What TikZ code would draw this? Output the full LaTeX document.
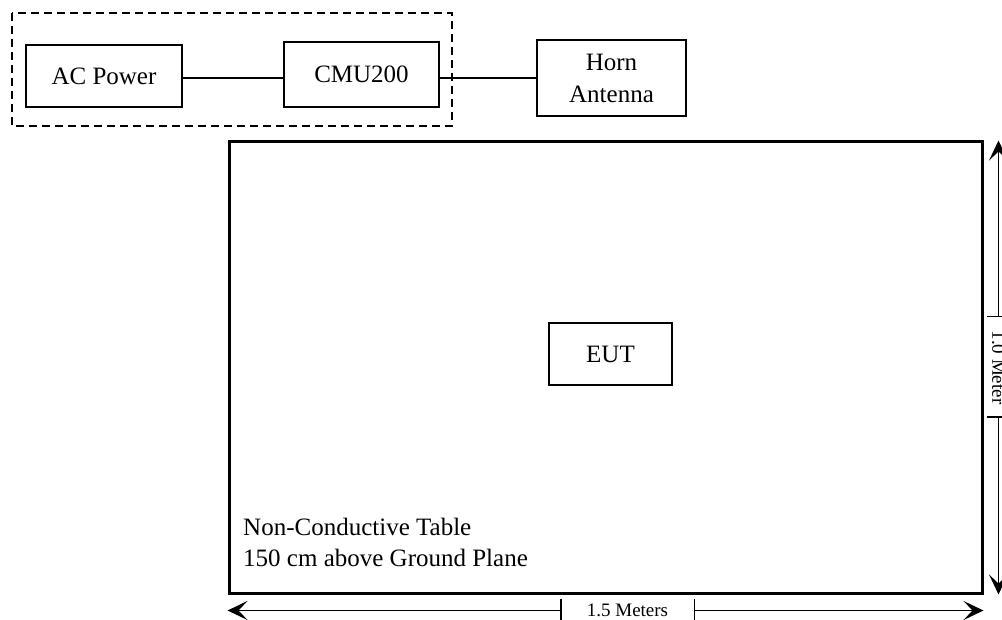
\documentclass[tikz,border=0pt]{standalone}
\usepackage{fontspec}
\setmainfont{Liberation Serif}
\usetikzlibrary{arrows.meta,calc}
\begin{document}
\begin{tikzpicture}[x=1pt,y=-1pt,
  box/.style={draw, line width=1.8pt, inner sep=0pt, align=center,
    font=\fontsize{25}{32}\selectfont},
  wire/.style={line width=1.5pt},
  dim/.style={line width=1.5pt},
  dimlabel/.style={inner sep=0pt, font=\fontsize{19}{22}\selectfont}]
\tikzset{headtip/.tip={Stealth[length=20pt,width=19pt,inset=9pt]},
  bartip/.tip={Bar[width=23pt]}}
\useasboundingbox (0,0) rectangle (1002,620);
% top chain
\node[box, minimum width=156pt, minimum height=62pt] (ac) at (104,76) {AC Power};
\node[box, minimum width=155pt, minimum height=65pt] (cmu) at (361.5,74.5) {CMU200};
\node[box, minimum width=149pt, minimum height=76pt] (horn) at (611.5,78) {Horn\\Antenna};
\draw[wire] (ac.east |- horn.west) -- (cmu.west |- horn.west);
\draw[wire] (cmu.east |- horn.west) -- (horn.west);
\coordinate (gtl) at (12,13);
\coordinate (gbr) at (452,126);
\draw[line width=1.6pt, dash pattern=on 8pt off 5pt] (gtl) rectangle (gbr);
% table
\node[draw, line width=3pt, minimum width=753pt, minimum height=451pt, inner sep=0pt] (table) at (605.5,367.5) {};
\node[box, minimum width=123pt, minimum height=62pt] (eut) at (610.5,354) {EUT};
\node[anchor=base west, align=left, inner sep=0pt, font=\fontsize{25}{31}\selectfont] (tlabel) at (243,566)
  {Non-Conductive Table\\150 cm above Ground Plane};
% horizontal dimension
\coordinate (hl) at ($(table.south west)+(0,16)$);
\coordinate (hr) at ($(table.south east)+(0,16)$);
\node[dimlabel] (hlab) at ($(hl)+(400,0)$) {1.5 Meters};
\coordinate (hb1) at ($(hl)+(334,0)$);
\coordinate (hb2) at ($(hl)+(466,0)$);
\draw[dim, {headtip}-{bartip}] (hl) -- (hb1);
\draw[dim, {bartip}-{headtip}] (hb2) -- (hr);
% vertical dimension
\coordinate (vt) at ($(table.north east)+(15,0)$);
\coordinate (vb) at ($(table.south east)+(15,0)$);
\node[dimlabel, rotate=-90] (vlab) at ($(vt)!0.5!(vb)$) {1.0 Meter};
\coordinate (vb1) at ($(vt)+(0,177)$);
\coordinate (vb2) at ($(vt)+(0,276)$);
\draw[dim, {headtip}-{bartip}] (vt) -- (vb1);
\draw[dim, {bartip}-{headtip}] (vb2) -- (vb);
\end{tikzpicture}
\end{document}
